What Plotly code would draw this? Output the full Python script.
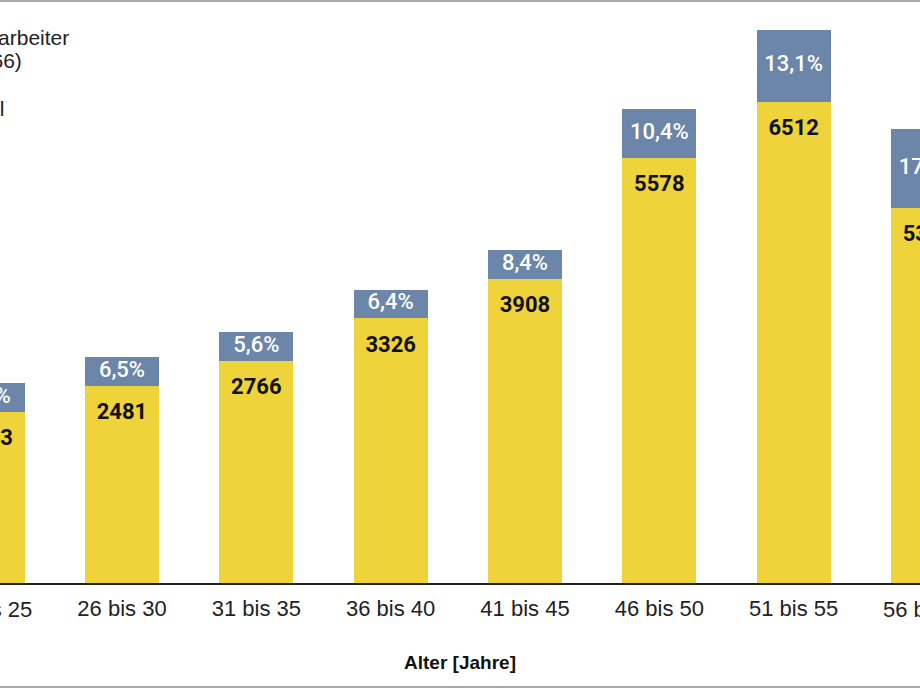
import plotly.graph_objects as go

# ---------------- data ----------------
categories = ["21 bis 25", "26 bis 30", "31 bis 35", "36 bis 40",
              "41 bis 45", "46 bis 50", "51 bis 55", "56 bis 60"]
counts = [2163, 2481, 2766, 3326, 3908, 5578, 6512, 5348]
percents = [6.9, 6.5, 5.6, 6.4, 8.4, 10.4, 13.1, 17.4]
legend_lines = ["Anzahl Mitarbeiter", "(n = 32 566)", "Anteil"]
x_title = "Alter [Jahre]"

# ---------------- style ----------------
W, H = 920, 690
M_L, M_R, M_T, M_B = 0, 0, 0, 107
YELLOW = "#EED33A"
BLUE = "#6B86A8"
MIN_SEG = 340          # minimum drawn height of the share segment (for the label)
Y_MAX = 6860
X_RANGE = [0.0918, 6.9405]

yellow = [c * (1 - p / 100) for c, p in zip(counts, percents)]
blue = [max(c * p / 100, MIN_SEG) for c, p in zip(counts, percents)]
blue_mid = [y + b / 2 for y, b in zip(yellow, blue)]
pct_text = [f"{p:.1f}".replace(".", ",") + "%" for p in percents]
cnt_text = [str(c) for c in counts]

plot_h = H - M_T - M_B
plot_w = W - M_L - M_R


def paper_y(py):
    return (H - M_B - py) / plot_h


def paper_x_of_cat(i):
    return (i - X_RANGE[0]) / (X_RANGE[1] - X_RANGE[0])


fig = go.Figure()
fig.add_trace(go.Bar(x=categories, y=yellow, marker=dict(color=YELLOW, line=dict(width=0)),
                     hoverinfo="skip", showlegend=False))
fig.add_trace(go.Bar(x=categories, y=blue, marker=dict(color=BLUE, line=dict(width=0)),
                     hoverinfo="skip", showlegend=False))
fig.add_trace(go.Scatter(x=categories, y=yellow, mode="markers+text", text=cnt_text,
                         textposition="bottom center",
                         marker=dict(size=25, opacity=0),
                         textfont=dict(family="Roboto", size=22, color="#111", weight="bold"),
                         hoverinfo="skip", showlegend=False))
fig.add_trace(go.Scatter(x=categories, y=blue_mid, mode="text", text=pct_text,
                         textposition="middle center",
                         textfont=dict(family="Roboto", size=22, color="white", weight=500),
                         hoverinfo="skip", showlegend=False))

tick_font = dict(family="Liberation Sans, Arial, sans-serif", size=22, color="#222")
legend_font = dict(family="Liberation Sans, Arial, sans-serif", size=21, color="#222")

annotations = []
# tick labels of the categories that are cut by the picture edges
for i in (0, len(categories) - 1):
    annotations.append(dict(text=categories[i], xref="paper", yref="paper",
                            x=paper_x_of_cat(i), y=paper_y(609), xanchor="center",
                            yanchor="middle", showarrow=False, font=tick_font))
# legend texts (cut by the left edge)
for txt, rx, py in zip(legend_lines, [71, 24, 7], [37, 60, 108]):
    annotations.append(dict(text=txt, xref="paper", yref="paper", x=rx / plot_w,
                            y=paper_y(py), xanchor="right", yanchor="middle",
                            showarrow=False, font=legend_font))

shapes = [
    dict(type="line", xref="paper", yref="paper", x0=-0.1, x1=1.1,
         y0=paper_y(1), y1=paper_y(1), line=dict(color="#A8A8A8", width=2)),
    dict(type="line", xref="paper", yref="paper", x0=-0.1, x1=1.1,
         y0=paper_y(687), y1=paper_y(687), line=dict(color="#A8A8A8", width=2)),
]

fig.update_layout(
    width=W, height=H,
    margin=dict(l=M_L, r=M_R, t=M_T, b=M_B, pad=0),
    paper_bgcolor="white", plot_bgcolor="white",
    barmode="stack", bargap=0.449,
    annotations=annotations, shapes=shapes,
    xaxis=dict(type="category", range=X_RANGE, showgrid=False, zeroline=False,
               showline=True, linecolor="#222", linewidth=2, ticks="",
               tickfont=tick_font, ticklabelstandoff=5,
               title=dict(text=x_title, standoff=35,
                          font=dict(family="Liberation Sans, Arial, sans-serif",
                                    size=19, color="#111", weight="bold"))),
    yaxis=dict(range=[0, Y_MAX], visible=False, showgrid=False, zeroline=False),
)

fig.write_html("out.html", config={"displayModeBar": False},
               post_script="document.body.style.margin='0';document.body.style.overflow='hidden';")
